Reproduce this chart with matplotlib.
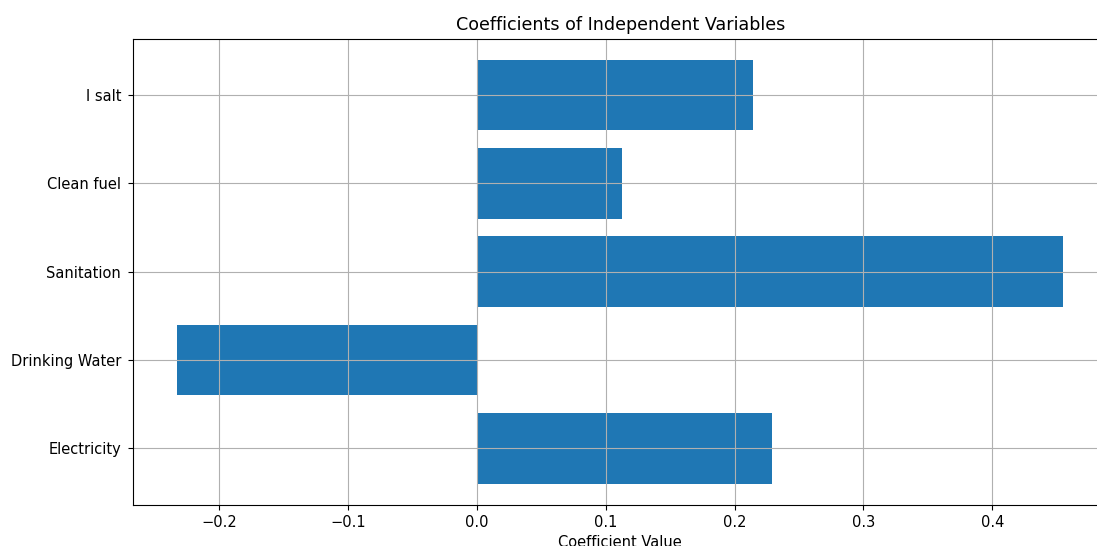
import matplotlib
matplotlib.use("Agg")
import matplotlib.pyplot as plt

# Variabel dan koefisiennya
variables = ["Electricity", "Drinking Water", "Sanitation", "Clean fuel", "I salt"]
coefficients = [0.2288, -0.2324, 0.4550, 0.1124, 0.2140]

plt.rcParams["font.size"] = 10.5

fig = plt.figure(figsize=(10.97, 5.46), dpi=100)
# posisi axes mengikuti gambar asli (sisi kanan terpotong)
ax = fig.add_axes([132.9 / 1097, 41 / 546, (1107.6 - 132.9) / 1097, (505 - 38.5) / 546])

ax.barh(variables, coefficients, color="#1f77b4")
ax.set_title("Coefficients of Independent Variables", fontsize=12.6)
ax.set_xlabel("Coefficient Value", labelpad=4)
ax.tick_params(axis="y", pad=5)
ax.grid(True)

fig.savefig("out.png", dpi=100)
